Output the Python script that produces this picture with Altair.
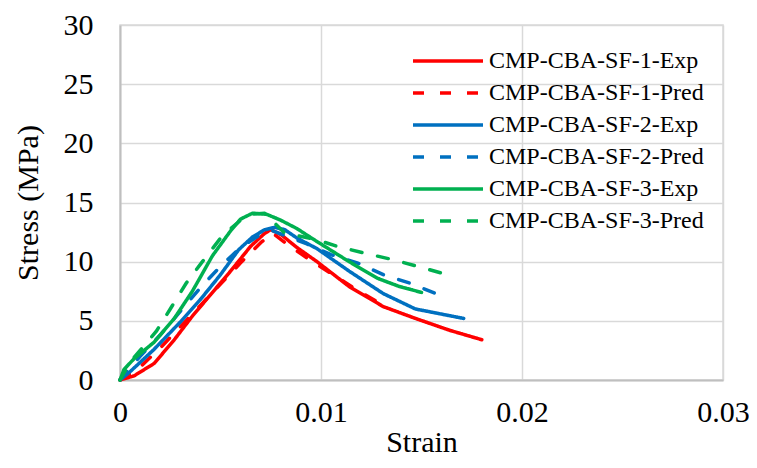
import altair as alt
import pandas as pd

series_names = [
    "CMP-CBA-SF-1-Exp", "CMP-CBA-SF-1-Pred",
    "CMP-CBA-SF-2-Exp", "CMP-CBA-SF-2-Pred",
    "CMP-CBA-SF-3-Exp", "CMP-CBA-SF-3-Pred",
]
series_colors = ["#FF0000", "#FF0000", "#0070C0", "#0070C0", "#00B050", "#00B050"]
series_dashes = [[1, 0], [11, 16], [1, 0], [11, 16], [1, 0], [11, 16]]

sf1_exp_strain = [0, 0.0007, 0.0017, 0.0027, 0.0036, 0.0045, 0.0055, 0.0065, 0.0072, 0.0075,
                  0.008, 0.0088, 0.0098, 0.0114, 0.0131, 0.0147, 0.0164, 0.018]
sf1_exp_stress = [0, 0.35, 1.4, 3.4, 5.4, 7.2, 9.2, 11.3, 12.4, 12.7,
                  12.3, 11.2, 10.0, 7.9, 6.2, 5.2, 4.2, 3.4]

sf1_pred_strain = [0, 0.001, 0.002, 0.003, 0.004, 0.005, 0.006, 0.007, 0.0076, 0.0083,
                   0.0094, 0.0105, 0.0117, 0.0131]
sf1_pred_stress = [0, 1.1, 2.7, 4.5, 6.3, 8.1, 9.9, 11.6, 12.4, 11.5,
                   10.2, 9.0, 7.7, 6.3]

sf2_exp_strain = [0, 0.0005, 0.0017, 0.003, 0.004, 0.005, 0.0059, 0.0066, 0.0072, 0.0077,
                  0.0082, 0.0088, 0.0098, 0.0114, 0.0131, 0.0147, 0.0171]
sf2_exp_stress = [0, 0.7, 2.6, 4.9, 6.8, 8.9, 11.0, 12.1, 12.7, 12.9,
                  12.7, 12.0, 11.1, 9.2, 7.3, 6.0, 5.2]

sf2_pred_strain = [0, 0.001, 0.002, 0.003, 0.004, 0.005, 0.006, 0.007, 0.0076, 0.0085,
                   0.0093, 0.0105, 0.0118, 0.0131, 0.0144, 0.016]
sf2_pred_stress = [0, 2.0, 3.8, 5.8, 7.8, 9.6, 11.2, 12.3, 12.6, 12.0,
                   11.5, 10.6, 9.9, 8.9, 8.2, 7.1]

sf3_exp_strain = [0, 0.0002, 0.0007, 0.0017, 0.0027, 0.0036, 0.0046, 0.0055, 0.006, 0.0066,
                  0.0073, 0.008, 0.0088, 0.0098, 0.0114, 0.0128, 0.0139, 0.015]
sf3_exp_stress = [0, 0.9, 1.8, 3.2, 5.2, 7.5, 10.5, 12.6, 13.6, 14.1,
                  14.0, 13.5, 12.8, 11.7, 10.0, 8.6, 7.9, 7.4]

sf3_pred_strain = [0, 0.0005, 0.001, 0.0018, 0.0025, 0.0033, 0.0041, 0.0051, 0.006, 0.0065,
                   0.0072, 0.0082, 0.0097, 0.0108, 0.0122, 0.0135, 0.0148, 0.0165]
sf3_pred_stress = [0, 1.5, 2.5, 4.1, 6.0, 8.2, 10.0, 12.2, 13.5, 14.0,
                   14.1, 12.4, 11.9, 11.3, 10.7, 10.2, 9.6, 8.8]

x_ticks = [0, 0.01, 0.02, 0.03]
y_ticks = [0, 5, 10, 15, 20, 25, 30]

all_series = [
    (sf1_exp_strain, sf1_exp_stress),
    (sf1_pred_strain, sf1_pred_stress),
    (sf2_exp_strain, sf2_exp_stress),
    (sf2_pred_strain, sf2_pred_stress),
    (sf3_exp_strain, sf3_exp_stress),
    (sf3_pred_strain, sf3_pred_stress),
]

rows = []
for name, (xs, ys) in zip(series_names, all_series):
    for i, (xv, yv) in enumerate(zip(xs, ys)):
        rows.append({"series": name, "strain": xv, "stress": yv, "idx": i})
df = pd.DataFrame(rows)

FONT = "Liberation Serif"

legend_opts = dict(title=None, orient="none", legendX=316, legendY=24,
                   symbolType="M-5,0H5", symbolSize=196,
                   symbolStrokeWidth=3.5, labelFontSize=24,
                   labelFont=FONT, labelColor="#000000",
                   labelOffset=29, rowPadding=8, labelLimit=400)

chart = alt.Chart(df).mark_line(strokeWidth=3.5, strokeCap="round", strokeJoin="round").encode(
    x=alt.X("strain:Q",
            scale=alt.Scale(domain=[0, 0.03], nice=False),
            axis=alt.Axis(values=x_ticks, format="~g", title="Strain", labelFlush=False,
                          labelPadding=17, titlePadding=0)),
    y=alt.Y("stress:Q",
            scale=alt.Scale(domain=[0, 30], nice=False),
            axis=alt.Axis(values=y_ticks, title="Stress (MPa)",
                          labelPadding=27, titlePadding=20)),
    color=alt.Color("series:N",
                    scale=alt.Scale(domain=series_names, range=series_colors),
                    legend=alt.Legend(**legend_opts)),
    strokeDash=alt.StrokeDash("series:N",
                              scale=alt.Scale(domain=series_names, range=series_dashes),
                              legend=alt.Legend(**legend_opts)),
    order="idx:Q",
).properties(
    width=603,
    height=355,
    autosize=alt.AutoSizeParams(type="none"),
    padding={"left": 112, "top": 17, "right": 26, "bottom": 80},
).configure_axis(
    labelFont=FONT, titleFont=FONT, labelFontSize=30, titleFontSize=30,
    labelColor="#000000", titleColor="#000000", titleFontWeight="normal",
    ticks=False, domainColor="#BFBFBF", domainWidth=2,
    gridColor="#D9D9D9", gridWidth=1.5,
).configure_view(stroke="#D9D9D9", strokeWidth=1.5)

chart.save("out.html", embed_options={"renderer": "svg", "actions": False})
